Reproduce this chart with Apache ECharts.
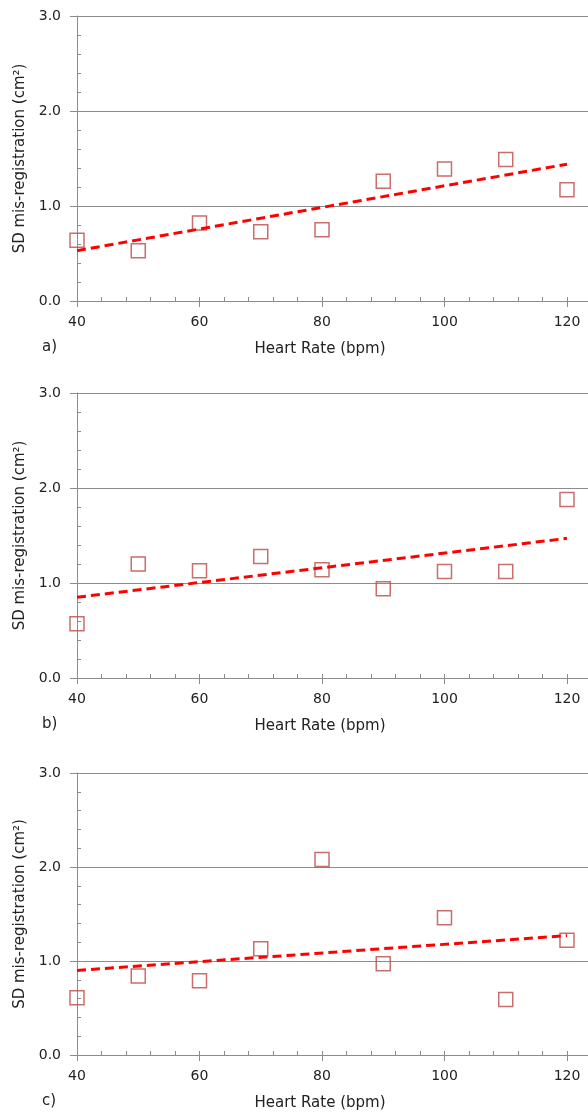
<!DOCTYPE html>
<html>
<head>
<meta charset="utf-8">
<script src="https://cdn.jsdelivr.net/npm/echarts@6/dist/echarts.min.js"></script>
<style>
html,body{margin:0;padding:0;background:#fff;}
#chart{width:588px;height:1116px;}
</style>
</head>
<body>
<div id="chart"></div>
<script>
// ---- data ----
const heartRate = [40, 50, 60, 70, 80, 90, 100, 110, 120];
const sdA = [0.64, 0.53, 0.82, 0.73, 0.75, 1.26, 1.39, 1.49, 1.17];
const sdB = [0.57, 1.20, 1.13, 1.28, 1.14, 0.94, 1.12, 1.12, 1.88];
const sdC = [0.61, 0.84, 0.79, 1.13, 2.08, 0.97, 1.46, 0.59, 1.22];
const trendX = [40, 120];
const trendA = [0.53, 1.44];
const trendB = [0.85, 1.47];
const trendC = [0.90, 1.27];
const xTicks = [40, 60, 80, 100, 120];
const yTicks = [0.0, 1.0, 2.0, 3.0];
const panelLabels = ['a)', 'b)', 'c)'];
const xTitle = 'Heart Rate (bpm)';
const yTitle = 'SD mis-registration (cm²)';

const FONT = 'DejaVu Sans';
const GRAY = '#8c8c8c';
const TXT = '#222';

const panels = [
  {top: 16, height: 285, sd: sdA, trend: trendA},
  {top: 393, height: 285, sd: sdB, trend: trendB},
  {top: 773, height: 282, sd: sdC, trend: trendC}
];

const grid = [], xAxis = [], yAxis = [], series = [], graphic = [];
panels.forEach((p, i) => {
  grid.push({left: 77, top: p.top, width: 520, height: p.height,
    containLabel: false, outerBoundsMode: 'none'});
  // main x axis with labels and outer ticks
  xAxis.push({
    type: 'value', gridIndex: i, position: 'bottom', min: 40, max: 124.9, interval: 20,
    axisLine: {show: true, lineStyle: {color: GRAY, width: 1}},
    axisTick: {show: true, inside: false, length: 6, lineStyle: {color: GRAY}},
    axisLabel: {show: true, margin: 14, color: TXT, fontFamily: FONT, fontSize: 14,
      formatter: v => xTicks.indexOf(v) >= 0 ? String(v) : ''},
    splitLine: {show: false}
  });
  // minor ticks (inside)
  xAxis.push({
    type: 'value', gridIndex: i, position: 'bottom', offset: 0, min: 40, max: 124.9, interval: 4,
    axisLine: {show: false},
    axisTick: {show: true, inside: true, length: 4, lineStyle: {color: GRAY}},
    axisLabel: {show: false},
    splitLine: {show: false}
  });
  yAxis.push({
    type: 'value', gridIndex: i, position: 'left', min: 0, max: 3, interval: 1,
    axisLine: {show: true, lineStyle: {color: GRAY, width: 1}},
    axisTick: {show: true, inside: false, length: 7, lineStyle: {color: GRAY}},
    axisLabel: {show: true, margin: 16, color: TXT, fontFamily: FONT, fontSize: 14,
      formatter: v => v.toFixed(1)},
    splitLine: {show: true, lineStyle: {color: GRAY, width: 1}},
    name: yTitle, nameLocation: 'middle', nameRotate: 90, nameGap: 44,
    nameTextStyle: {color: TXT, fontFamily: FONT, fontSize: 15}
  });
  yAxis.push({
    type: 'value', gridIndex: i, position: 'left', offset: 0, min: 0, max: 3, interval: 0.2,
    axisLine: {show: false},
    axisTick: {show: true, inside: true, length: 4, lineStyle: {color: GRAY}},
    axisLabel: {show: false},
    splitLine: {show: false}
  });
  series.push({
    type: 'scatter', xAxisIndex: 2 * i, yAxisIndex: 2 * i,
    data: heartRate.map((x, k) => [x, p.sd[k]]),
    symbol: 'rect', symbolSize: 14,
    itemStyle: {color: 'rgba(0,0,0,0)', borderColor: '#bc4a47', borderWidth: 1.5},
    emphasis: {disabled: true}, z: 2
  });
  series.push({
    type: 'line', xAxisIndex: 2 * i, yAxisIndex: 2 * i,
    data: trendX.map((x, k) => [x, p.trend[k]]),
    symbol: 'none', showSymbol: false,
    lineStyle: {color: '#ff0000', width: 3, type: [9, 5], cap: 'butt'},
    emphasis: {disabled: true}, z: 3
  });
  const titleY = p.top + p.height + 48;
  graphic.push({type: 'text', left: 42, top: titleY - 9,
    style: {text: panelLabels[i], fill: TXT, font: '15px "' + FONT + '"'}});
  graphic.push({type: 'text', x: 320, y: titleY,
    style: {text: xTitle, fill: TXT, font: '15px "' + FONT + '"', align: 'center', verticalAlign: 'middle'}});
});

const chart = echarts.init(document.getElementById('chart'), null, {renderer: 'canvas'});
chart.setOption({
  animation: false,
  backgroundColor: '#fff',
  grid, xAxis, yAxis, series, graphic
});
</script>
</body>
</html>
